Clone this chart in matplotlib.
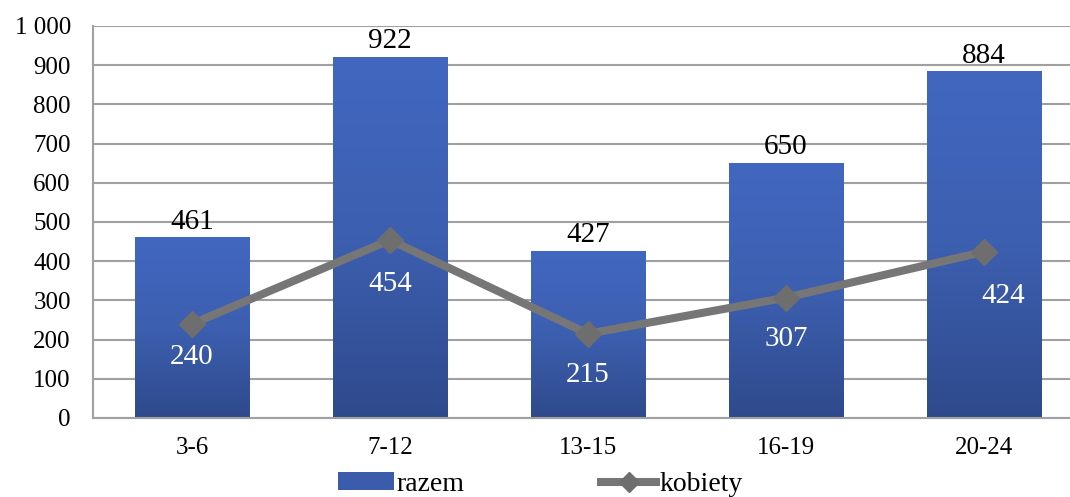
import numpy as np
import matplotlib.pyplot as plt
from matplotlib.colors import LinearSegmentedColormap
from matplotlib.lines import Line2D
from matplotlib.patches import Patch
from matplotlib.ticker import FuncFormatter

# Dane
kategorie = ['3-6', '7-12', '13-15', '16-19', '20-24']
razem = [461, 922, 427, 650, 884]
kobiety = [240, 454, 215, 307, 424]
# przesuniecia etykiet linii (punkty)
przes_kobiety = [(0, -24), (0, -32), (0, -30), (0, -30), (14, -32)]

plt.rcParams['font.family'] = ['Liberation Serif', 'DejaVu Serif']

fig = plt.figure(figsize=(10.7, 4.97), dpi=100)
ax = fig.add_axes([93 / 1070, 1 - 418 / 497, 990 / 1070, 392 / 497])

x = np.arange(len(kategorie))
szer = 0.576

# Gradient dla slupkow
cmap = LinearSegmentedColormap.from_list('grad', ['#2f4a8c', '#3d5fb0', '#4167c0'])
slupki = ax.bar(x, razem, width=szer, color='none', zorder=2)
grad = np.linspace(0, 1, 256).reshape(-1, 1)
for b in slupki:
    x0, y0 = b.get_x(), b.get_y()
    w, h = b.get_width(), b.get_height()
    im = ax.imshow(grad, cmap=cmap, origin='lower', aspect='auto',
                   extent=[x0, x0 + w, y0, y0 + h], zorder=2)
    im.set_clip_path(b)

for xi, v in zip(x, razem):
    ax.annotate(str(v), (xi, v), xytext=(0, 2), textcoords='offset points',
                ha='center', va='bottom', fontsize=21, color='black')

# Linia kobiety
ax.plot(x, kobiety, color='#767676', linewidth=5.8, marker='D', markersize=13,
        markerfacecolor='#6e6e6e', markeredgecolor='#6e6e6e', zorder=3)
for xi, v, (dx, dy) in zip(x, kobiety, przes_kobiety):
    ax.annotate(str(v), (xi, v), xytext=(dx, dy), textcoords='offset points',
                ha='center', va='center', fontsize=21, color='white', zorder=4)

ax.set_xlim(-0.5, len(kategorie) - 0.5)
ax.set_ylim(0, 1000)
ax.set_yticks(range(0, 1001, 100))
ax.yaxis.set_major_formatter(FuncFormatter(lambda v, p: f'{int(v):,}'.replace(',', ' ')))
ax.set_xticks(x)
ax.set_xticklabels(kategorie)
ax.tick_params(axis='both', length=0, labelsize=18)
ax.tick_params(axis='y', pad=16)
ax.tick_params(axis='x', pad=14)

ax.grid(axis='y', color='#a0a0a0', linewidth=1.5, zorder=0)
ax.set_axisbelow(True)
for s in ['top', 'right']:
    ax.spines[s].set_visible(False)
ax.spines['left'].set_color('#a0a0a0')
ax.spines['left'].set_linewidth(1.5)
ax.spines['bottom'].set_color('#a0a0a0')
ax.spines['bottom'].set_linewidth(1.5)

uchwyty = [Patch(facecolor='#3b5cab', edgecolor='none'),
           Line2D([0], [0], color='#767676', linewidth=5.8, marker='D', markersize=10,
                  markerfacecolor='#6e6e6e', markeredgecolor='#6e6e6e')]
fig.legend(uchwyty, ['razem', 'kobiety'], loc='lower center', bbox_to_anchor=(0.505, -0.05),
           ncol=2, frameon=False, fontsize=20, columnspacing=4.9, handlelength=2.0,
           handletextpad=0.1, handleheight=0.6)

plt.savefig('out.png', dpi=100)
